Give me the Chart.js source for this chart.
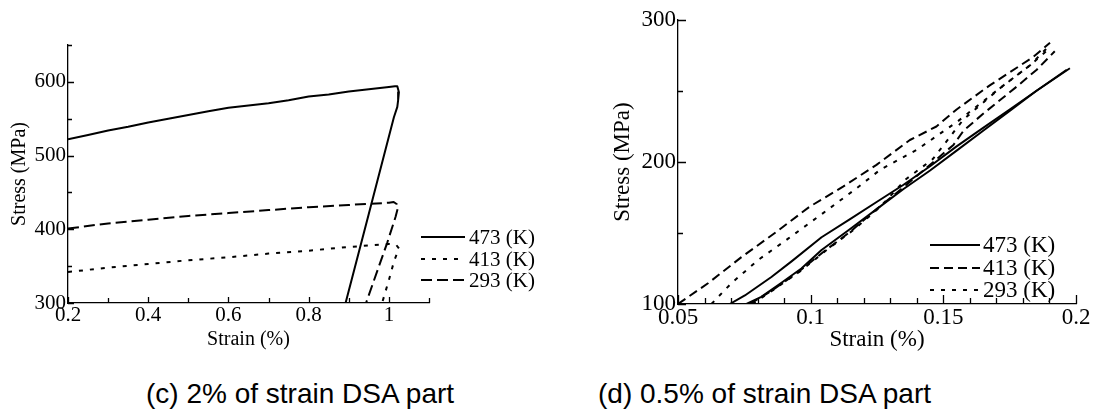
<!DOCTYPE html>
<html>
<head>
<meta charset="utf-8">
<script src="https://cdn.jsdelivr.net/npm/chart.js@4.4.1/dist/chart.umd.min.js"></script>
<style>
  html, body { margin: 0; padding: 0; background: #fff; }
  body { width: 1094px; height: 412px; position: relative; overflow: hidden; }
  canvas { position: absolute; top: 0; }
  #c1 { left: 0; }
  #c2 { left: 540px; }
  .cap { position: absolute; top: 380px; font-family: "Liberation Sans", Arial, sans-serif; font-size: 28px; line-height: 28px; color: #000; white-space: nowrap; }
</style>
</head>
<body>
<canvas id="c1" width="540" height="352"></canvas>
<canvas id="c2" width="554" height="354"></canvas>
<div class="cap" id="capL" style="left:146px;">(c) 2% of strain DSA part</div>
<div class="cap" id="capR" style="left:598px;">(d) 0.5% of strain DSA part</div>
<script>
// ---------------- DATA: left panel (c) ----------------
const leftLabels = ['473 (K)', '413 (K)', '293 (K)'];
const left473Strain = [0.2, 0.25, 0.3, 0.35, 0.4, 0.45, 0.5, 0.55, 0.6, 0.65, 0.7, 0.75, 0.8, 0.85, 0.9, 0.95, 1.0, 1.015, 1.021, 1.025, 1.023, 1.021, 1.0125, 0.95, 0.892];
const left473Stress = [522, 528, 534, 539, 545, 550, 555, 560, 565, 568, 571, 575, 580, 583, 587, 590, 593, 594, 594, 586, 575, 566, 552, 421, 300];
const left413Strain = [0.2, 0.3, 0.4, 0.5, 0.6, 0.7, 0.8, 0.9, 1.0, 1.018, 1.025, 1.0125, 1.0, 0.983];
const left413Stress = [342, 348, 353, 358, 362, 367, 371, 376, 380, 379, 374, 356, 331, 300];
const left293Strain = [0.2, 0.3, 0.4, 0.5, 0.6, 0.7, 0.8, 0.9, 1.0, 1.012, 1.02, 1.022, 1.0167, 0.996, 0.943];
const left293Stress = [401, 408, 413, 418, 422, 426, 430, 433, 436, 437, 434, 428, 417, 382, 300];
const leftXTickLabels = [0.2, 0.4, 0.6, 0.8, 1];
const leftYTickLabels = [300, 400, 500, 600];

// ---------------- DATA: right panel (d) ----------------
const rightLabels = ['473 (K)', '413 (K)', '293 (K)'];
const r473aStrain = [0.0695, 0.0752, 0.0852, 0.0928, 0.1041, 0.115, 0.125, 0.135, 0.145, 0.155, 0.165, 0.175, 0.185, 0.1977];
const r473aStress = [100, 106, 119, 130, 147, 160, 172, 184, 197, 211, 224, 237, 250, 266];
const r473bStrain = [0.0758, 0.0814, 0.089, 0.0965, 0.1041, 0.115, 0.125, 0.135, 0.145, 0.155, 0.165, 0.175, 0.185, 0.1965];
const r473bStress = [100, 105, 115, 125, 138, 153, 167, 181, 194, 208, 222, 236, 250, 265];
const r413aStrain = [0.05, 0.0613, 0.0739, 0.0865, 0.0996, 0.1122, 0.1248, 0.1374, 0.1474, 0.155, 0.1675, 0.1782, 0.1839, 0.1902];
const r413aStress = [100, 114.6, 133, 150, 168.5, 182.6, 198, 215.5, 225, 237, 254, 267, 274, 284];
const r413bStrain = [0.077, 0.085, 0.095, 0.105, 0.115, 0.125, 0.1361, 0.1538, 0.1576, 0.165, 0.1776, 0.1852, 0.192];
const r413bStress = [100, 109, 122, 137, 151, 167, 184, 212, 222, 234, 253, 265, 278];
const r293aStrain = [0.0626, 0.0701, 0.0802, 0.0915, 0.1047, 0.1173, 0.1261, 0.1399, 0.155, 0.1713, 0.1826, 0.1905];
const r293aStress = [100, 114.6, 131, 146, 164, 181.5, 194.4, 208.5, 228, 252, 268, 283];
const r293bStrain = [0.078, 0.086, 0.096, 0.106, 0.116, 0.126, 0.136, 0.146, 0.1576, 0.1714, 0.1826, 0.19];
const r293bStress = [100, 110, 123, 138, 152, 168, 188, 202, 230, 252, 268, 280];
const rightXTickLabels = [0.05, 0.1, 0.15, 0.2];
const rightYTickLabels = [100, 200, 300];

// ---------------- helpers ----------------
const pts = (xs, ys) => xs.map((x, i) => ({ x, y: ys[i] }));
const near = (v, list) => list.find(t => Math.abs(t - v) < 1e-6);
const lab = list => v => { const m = near(v, list); return m === undefined ? '' : String(m); };

const inTicks = {
  id: 'inTicks',
  afterDraw(chart, args, o) {
    const { ctx, chartArea: ca, scales: { x, y } } = chart;
    ctx.save();
    ctx.strokeStyle = '#000';
    ctx.lineWidth = 1.3;
    ctx.beginPath();
    x.ticks.forEach(t => {
      const px = Math.round(x.getPixelForValue(t.value)) + 0.5;
      const len = near(t.value, o.xMajor) !== undefined ? o.xMajorLen : o.xMinorLen;
      ctx.moveTo(px, ca.bottom); ctx.lineTo(px, ca.bottom - len);
    });
    y.ticks.forEach(t => {
      const py = Math.round(y.getPixelForValue(t.value)) + 0.5;
      const len = near(t.value, o.yMajor) !== undefined ? o.yMajorLen : o.yMinorLen;
      ctx.moveTo(ca.left, py); ctx.lineTo(ca.left + len, py);
    });
    ctx.stroke();
    ctx.restore();
  }
};

const legendPlug = {
  id: 'legendPlug',
  afterDraw(chart, args, o) {
    const { ctx, chartArea: ca } = chart;
    ctx.save();
    ctx.font = o.font;
    ctx.fillStyle = '#000';
    ctx.textBaseline = 'middle';
    ctx.textAlign = 'left';
    chart.data.datasets.filter(d => d.legend).forEach((d, i) => {
      const yy = ca.bottom + o.rows[i];
      ctx.strokeStyle = '#000';
      ctx.lineWidth = 2;
      ctx.setLineDash(d.borderDash || []);
      ctx.beginPath();
      ctx.moveTo(ca.right + o.x0, yy);
      ctx.lineTo(ca.right + o.x1, yy);
      ctx.stroke();
      ctx.setLineDash([]);
      ctx.fillText(d.label, ca.right + o.tx, yy + 1);
    });
    ctx.restore();
  }
};

function ds(label, data, dash, legend) {
  return { label, data, showLine: true, borderColor: '#000', borderWidth: 2, borderDash: dash, pointRadius: 0, tension: 0, fill: false, legend, borderCapStyle: 'butt', borderJoinStyle: 'round' };
}

function axisCommon(fontSize, titleSize, titleText, titlePad, fitSize, isY) {
  return {
    type: 'linear',
    border: { display: true, color: '#000', width: 1.3 },
    grid: { display: true, drawOnChartArea: false, drawTicks: false },
    ticks: { autoSkip: false, maxRotation: 0, color: '#000', font: { family: 'Liberation Serif', size: fontSize } },
    title: { display: true, text: titleText, color: '#000', font: { family: 'Liberation Serif', size: titleSize }, padding: titlePad },
    afterFit: s => { if (isY) s.width = fitSize; else s.height = fitSize; }
  };
}

// ---------------- left chart ----------------
const lx = axisCommon(21, 20, 'Strain (%)', { top: 0, bottom: 0 }, 49, false);
Object.assign(lx, { min: 0.2, max: 1.1 });
Object.assign(lx.ticks, { stepSize: 0.1, padding: 0, callback: lab(leftXTickLabels) });
const ly = axisCommon(21, 20, 'Stress (MPa)', { top: 8, bottom: 0 }, 68, true);
Object.assign(ly, { min: 300, max: 650 });
Object.assign(ly.ticks, { stepSize: 50, padding: 2, callback: lab(leftYTickLabels) });

new Chart(document.getElementById('c1'), {
  type: 'scatter',
  data: { datasets: [
    ds(leftLabels[0], pts(left473Strain, left473Stress), [], true),
    ds(leftLabels[1], pts(left413Strain, left413Stress), [4, 7], true),
    ds(leftLabels[2], pts(left293Strain, left293Stress), [11, 5], true)
  ] },
  options: {
    responsive: false, animation: false, devicePixelRatio: 1,
    layout: { padding: { left: 0, top: 45, right: 111, bottom: 0 } },
    plugins: {
      legend: { display: false }, tooltip: { enabled: false },
      inTicks: { xMajor: leftXTickLabels, yMajor: leftYTickLabels, xMajorLen: 6, xMinorLen: 5, yMajorLen: 6, yMinorLen: 4 },
      legendPlug: { font: '21px "Liberation Serif"', rows: [-66, -44, -23], x0: -8, x1: 36, tx: 40 }
    },
    scales: { x: lx, y: ly }
  },
  plugins: [inTicks, legendPlug]
});

// ---------------- right chart ----------------
const rx = axisCommon(23, 23, 'Strain (%)', { top: 0, bottom: 0 }, 50, false);
Object.assign(rx, { min: 0.05, max: 0.2 });
Object.assign(rx.ticks, { stepSize: 0.01, padding: 0, callback: lab(rightXTickLabels) });
const ry = axisCommon(23, 23, 'Stress (MPa)', { top: 69, bottom: 0 }, 138, true);
Object.assign(ry, { min: 100, max: 300 });
Object.assign(ry.ticks, { stepSize: 50, padding: 2, callback: lab(rightYTickLabels) });

new Chart(document.getElementById('c2'), {
  type: 'scatter',
  data: { datasets: [
    ds(rightLabels[0], pts(r473aStrain, r473aStress), [], true),
    ds(rightLabels[1], pts(r413aStrain, r413aStress), [9, 5], true),
    ds(rightLabels[2], pts(r293aStrain, r293aStress), [4, 7], true),
    ds(rightLabels[0], pts(r473bStrain, r473bStress), [], false),
    ds(rightLabels[1], pts(r413bStrain, r413bStress), [9, 5], false),
    ds(rightLabels[2], pts(r293bStrain, r293bStress), [4, 7], false)
  ] },
  options: {
    responsive: false, animation: false, devicePixelRatio: 1,
    layout: { padding: { left: 0, top: 20, right: 18, bottom: 0 } },
    plugins: {
      legend: { display: false }, tooltip: { enabled: false },
      inTicks: { xMajor: rightXTickLabels, yMajor: rightYTickLabels, xMajorLen: 9, xMinorLen: 6, yMajorLen: 8, yMinorLen: 5 },
      legendPlug: { font: '23px "Liberation Serif"', rows: [-59, -36, -14], x0: -146, x1: -96, tx: -93 }
    },
    scales: { x: rx, y: ry }
  },
  plugins: [inTicks, legendPlug]
});
</script>
</body>
</html>
